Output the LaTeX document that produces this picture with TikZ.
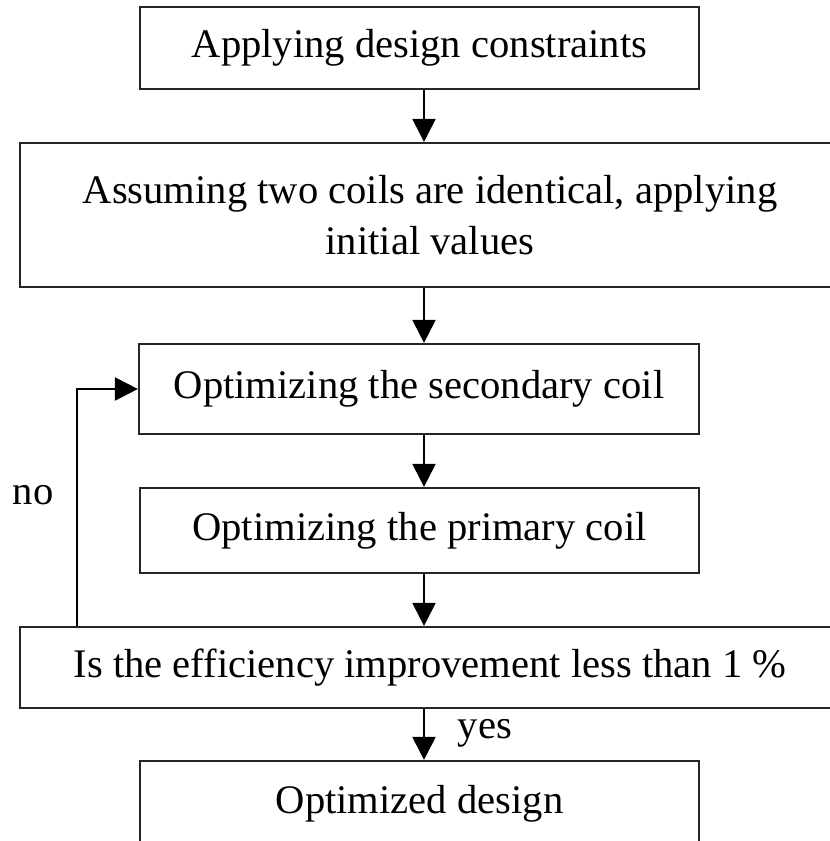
\documentclass[tikz,border=0pt]{standalone}
\usepackage{fontspec}
\setmainfont{Liberation Serif}
\usetikzlibrary{arrows.meta,calc}
\begin{document}
\begin{tikzpicture}[x=1pt,y=-1pt,
  box/.style={draw=black!85,line width=2.2pt,rectangle,inner sep=0pt,align=center,
    font=\fontsize{40.6}{51}\selectfont},
  arr/.style={draw=black,line width=2.2pt,-{Triangle[length=23pt,width=23pt]}},
  lbl/.style={font=\fontsize{40.6}{51}\selectfont,inner sep=0pt}]
\useasboundingbox (0,0) rectangle (830,841);
\clip (0,0) rectangle (830,841);
\node[box,minimum width=559pt,minimum height=82pt] (b1) at (419.5,48) {Applying design constraints};
\node[box,minimum width=820pt,minimum height=144pt] (b2) at (430,215) {Assuming two coils are identical, applying\\initial values};
\node[box,minimum width=560pt,minimum height=90pt] (b3) at (419,389) {Optimizing the secondary coil};
\node[box,minimum width=559pt,minimum height=85pt] (b4) at (419.5,530.5) {Optimizing the primary coil};
\node[box,minimum width=820pt,minimum height=81pt] (b5) at (430,667.5) {Is the efficiency improvement less than 1 \%};
\node[box,minimum width=559pt,minimum height=86pt] (b6) at (419.5,804) {Optimized design};
\coordinate (ax) at (424,0);
\coordinate (fb) at (77,0);
\draw[arr] (b1.south -| ax) -- (b2.north -| ax);
\draw[arr] (b2.south -| ax) -- (b3.north -| ax);
\draw[arr] (b3.south -| ax) -- (b4.north -| ax);
\draw[arr] (b4.south -| ax) -- (b5.north -| ax);
\draw[arr] (b5.south -| ax) -- (b6.north -| ax);
\draw[arr] (b5.north -| fb) |- (b3.west);
\node[lbl] (no) at (33,495) {no};
\node[lbl] (yes) at (485,733) {yes};
\end{tikzpicture}
\end{document}
